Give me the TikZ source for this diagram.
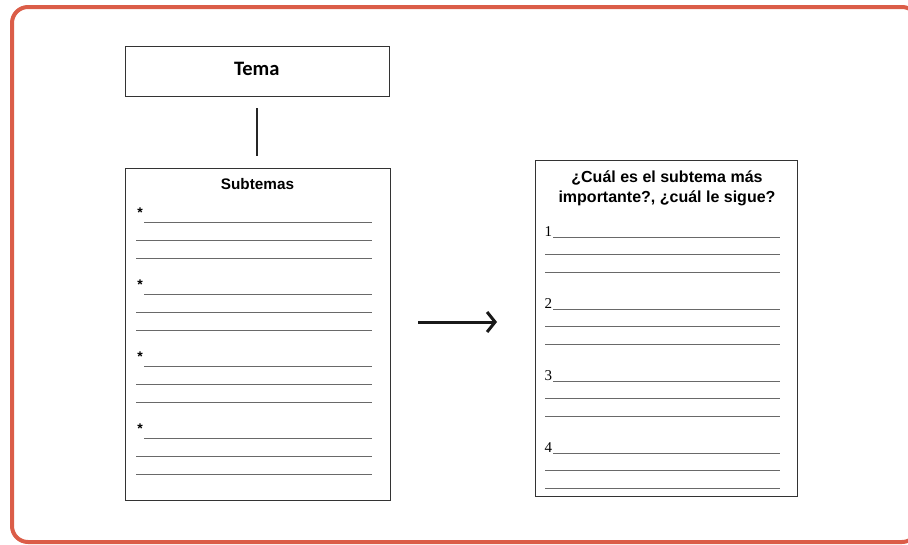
\documentclass[tikz,border=0pt]{standalone}
\usepackage{fontspec}
\setmainfont{Liberation Serif}
\setsansfont{Liberation Sans}
\newfontfamily\carlito{Carlito}
\usetikzlibrary{arrows.meta}
\definecolor{frameorange}{RGB}{219,93,72}
\definecolor{rulegray}{RGB}{105,105,105}
\tikzset{
  box/.style={draw=black!80, line width=1pt, inner sep=0pt, anchor=north west},
  wline/.style={draw=rulegray, line width=1pt},
  star/.style={font=\sffamily\bfseries\fontsize{14}{14}\selectfont, inner sep=0pt},
  num/.style={font=\rmfamily\fontsize{15}{15}\selectfont, inner sep=0pt, anchor=base west},
}
\begin{document}
\begin{tikzpicture}[x=1pt,y=-1pt]
\useasboundingbox (0,0) rectangle (908,544);
\clip (0,0) rectangle (908,544);
\draw[frameorange, line width=4pt, rounded corners=16pt] (12,7) rectangle (918,542);

% Tema box
\node[box, minimum width=264.5pt, minimum height=50pt] (tema) at (124.5,46) {};
\node[font=\carlito\bfseries\fontsize{20.5}{20.5}\selectfont] (tematxt) at (256.75,69) {Tema};

% Subtemas box
\node[box, minimum width=265pt, minimum height=332pt] (sub) at (125,168) {};
\node[font=\sffamily\bfseries\fontsize{15.3}{15.3}\selectfont] (subtxt) at (257.5,184) {Subtemas};

\draw[black!85, line width=1.6pt, shorten <=11pt, shorten >=12pt] (tema.south) -- (tema.south |- sub.north);

% Subtemas lines
\foreach \i in {0,1,2,3}{
  \pgfmathsetmacro{\yy}{222+72*\i}
  \node[star] (s\i) at (140,\yy-9) {*};
  \draw[wline] (144,\yy) -- (372,\yy);
  \draw[wline] (136,\yy+18) -- (372,\yy+18);
  \draw[wline] (136,\yy+36) -- (372,\yy+36);
}

% Question box
\node[box, minimum width=262pt, minimum height=336pt] (q) at (535,160) {};
\node[font=\sffamily\bfseries\fontsize{16}{20}\selectfont, align=center] (qtxt) at (667,188) {¿Cuál es el subtema más\\importante?, ¿cuál le sigue?};

\foreach \i/\n in {0/1,1/2,2/3,3/4}{
  \pgfmathsetmacro{\yy}{237+72*\i}
  \node[num] (n\i) at (544.5,\yy-1) {\n};
  \draw[wline] (553,\yy) -- (780,\yy);
  \draw[wline] (545,\yy+17.5) -- (780,\yy+17.5);
  \draw[wline] (545,\yy+35) -- (780,\yy+35);
}

% Arrow
\coordinate (a1) at (418,322);
\coordinate (a2) at (497,322);
\draw[black!90, line width=3pt, -{Straight Barb[length=8pt, width=20pt, line width=3pt]}] (a1) -- (a2);
\end{tikzpicture}
\end{document}
